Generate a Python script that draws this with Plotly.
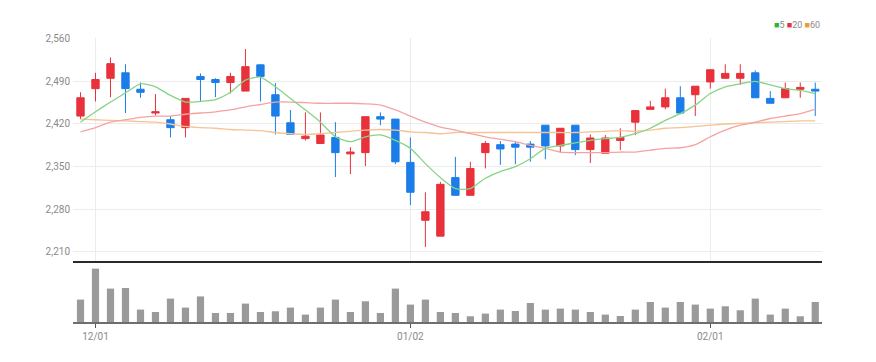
import plotly.graph_objects as go
from plotly.subplots import make_subplots

dates = ["2022-11-30", "2022-12-01", "2022-12-02", "2022-12-05", "2022-12-06", "2022-12-07",
         "2022-12-08", "2022-12-09", "2022-12-12", "2022-12-13", "2022-12-14", "2022-12-15",
         "2022-12-16", "2022-12-19", "2022-12-20", "2022-12-21", "2022-12-22", "2022-12-23",
         "2022-12-26", "2022-12-27", "2022-12-28", "2022-12-29", "2023-01-02", "2023-01-03",
         "2023-01-04", "2023-01-05", "2023-01-06", "2023-01-09", "2023-01-10", "2023-01-11",
         "2023-01-12", "2023-01-13", "2023-01-16", "2023-01-17", "2023-01-18", "2023-01-19",
         "2023-01-20", "2023-01-25", "2023-01-26", "2023-01-27", "2023-01-30", "2023-01-31",
         "2023-02-01", "2023-02-02", "2023-02-03", "2023-02-06", "2023-02-07", "2023-02-08",
         "2023-02-09", "2023-02-10"]

open_ = [2433, 2478, 2495, 2504, 2477, 2438, 2427, 2414, 2498, 2493,
         2488, 2474, 2517, 2468, 2422, 2396, 2388, 2398, 2371, 2373,
         2432, 2428, 2357, 2262, 2236, 2332, 2303, 2373, 2386, 2387,
         2387, 2418, 2384, 2418, 2378, 2372, 2393, 2423, 2444, 2448,
         2463, 2468, 2489, 2495, 2495, 2504, 2462, 2463, 2477, 2477]
high = [2472, 2504, 2529, 2518, 2488, 2469, 2433, 2462, 2503, 2495,
        2504, 2543, 2518, 2487, 2443, 2439, 2439, 2423, 2382, 2432,
        2439, 2428, 2398, 2308, 2325, 2366, 2358, 2392, 2392, 2392,
        2392, 2418, 2413, 2418, 2403, 2402, 2413, 2442, 2458, 2478,
        2482, 2482, 2509, 2518, 2518, 2508, 2474, 2488, 2488, 2488]
low = [2428, 2457, 2464, 2438, 2463, 2434, 2398, 2398, 2456, 2464,
       2470, 2474, 2457, 2403, 2403, 2393, 2388, 2333, 2338, 2351,
       2418, 2354, 2287, 2218, 2236, 2303, 2303, 2347, 2353, 2354,
       2358, 2362, 2373, 2369, 2356, 2372, 2377, 2402, 2444, 2444,
       2436, 2433, 2478, 2495, 2484, 2463, 2454, 2463, 2463, 2433]
close = [2463, 2493, 2519, 2478, 2472, 2440, 2414, 2462, 2493, 2488,
         2498, 2514, 2498, 2433, 2403, 2400, 2402, 2373, 2374, 2432,
         2428, 2358, 2308, 2276, 2321, 2303, 2347, 2388, 2379, 2382,
         2382, 2384, 2413, 2378, 2397, 2397, 2398, 2442, 2448, 2463,
         2438, 2482, 2509, 2503, 2503, 2463, 2454, 2478, 2480, 2474]

ma5 = [2423, 2440, 2456, 2471, 2486, 2481, 2467, 2456, 2457, 2460,
       2472, 2492, 2497, 2481, 2462, 2443, 2423, 2399, 2391, 2399,
       2402, 2393, 2380, 2355, 2332, 2314, 2314, 2331, 2342, 2350,
       2363, 2380, 2385, 2389, 2393, 2396, 2398, 2404, 2413, 2426,
       2437, 2451, 2470, 2481, 2486, 2490, 2484, 2478, 2475, 2470]
ma20 = [2407, 2414, 2423, 2427, 2431, 2433, 2433, 2436, 2438, 2440,
        2443, 2448, 2452, 2456, 2456, 2455, 2454, 2454, 2454, 2453,
        2451, 2443, 2433, 2423, 2415, 2410, 2404, 2399, 2395, 2391,
        2385, 2380, 2374, 2373, 2373, 2373, 2374, 2374, 2377, 2380,
        2381, 2386, 2399, 2410, 2418, 2423, 2429, 2433, 2437, 2444]
ma60 = [2428, 2427, 2426, 2425, 2424, 2423, 2420, 2416, 2414, 2413,
        2411, 2410, 2409, 2406, 2404, 2403, 2404, 2406, 2408, 2410,
        2411, 2410, 2407, 2406, 2404, 2406, 2406, 2406, 2406, 2406,
        2406, 2406, 2406, 2406, 2407, 2408, 2409, 2408, 2410, 2413,
        2414, 2416, 2418, 2420, 2421, 2422, 2423, 2424, 2425, 2425]

volume = [56000, 133500, 83500, 85000, 31000, 25000, 58500, 36000, 64000, 22500,
          22500, 46000, 25000, 26800, 36000, 18500, 36000, 56000, 25000, 51800,
          22500, 83500, 43500, 56000, 25000, 22500, 14300, 21000, 31000, 27500,
          47500, 31000, 33500, 31000, 25000, 18500, 15000, 31000, 50000, 36000,
          50000, 43500, 33500, 39300, 29300, 58500, 18500, 33500, 14300, 50000]

price_ticks = [2210, 2280, 2350, 2420, 2490, 2560]
date_ticks = ["2022-12-01", "2023-01-02", "2023-02-01"]
date_tick_text = ["12/01", "01/02", "02/01"]

UP = "#e8313b"
DOWN = "#1b7de8"
C5, C20, C60 = "#86d486", "#f4a3a3", "#f6c394"
FONT = "Liberation Sans Narrow, Roboto, Arial, sans-serif"

fig = make_subplots(rows=2, cols=1, shared_xaxes=False, vertical_spacing=0.0)

fig.add_trace(go.Scatter(x=dates, y=ma60, mode="lines", line=dict(color=C60, width=1.3, shape="spline", smoothing=0.6),
                         hoverinfo="skip", showlegend=False), row=1, col=1)
fig.add_trace(go.Scatter(x=dates, y=ma20, mode="lines", line=dict(color=C20, width=1.3, shape="spline", smoothing=0.6),
                         hoverinfo="skip", showlegend=False), row=1, col=1)
fig.add_trace(go.Scatter(x=dates, y=ma5, mode="lines", line=dict(color=C5, width=1.3, shape="spline", smoothing=0.6),
                         hoverinfo="skip", showlegend=False), row=1, col=1)
fig.add_trace(go.Candlestick(x=dates, open=open_, high=high, low=low, close=close,
                             increasing=dict(line=dict(color=UP, width=1), fillcolor=UP),
                             decreasing=dict(line=dict(color=DOWN, width=1), fillcolor=DOWN),
                             whiskerwidth=0, showlegend=False), row=1, col=1)
fig.add_trace(go.Bar(x=dates, y=volume, marker=dict(color="#9a9a9a", line=dict(width=0)), width=0.48,
                     showlegend=False), row=2, col=1)

# pixel layout: margins t=20, b=40 -> plot 20..322
H = 362
t, b = 20, 40
ph = H - t - b
def frac(ypix):
    return (H - b - ypix) / ph

xr = [-0.5, 49.45]
fig.update_layout(
    width=876, height=H,
    margin=dict(l=73, r=54, t=t, b=b),
    paper_bgcolor="white", plot_bgcolor="white",
    font=dict(family=FONT, size=10, color="#8a8a8a"),
    boxgap=0.3, boxgroupgap=0.3,
    bargap=0.5,
    xaxis=dict(type="category", range=xr, showticklabels=False, showgrid=True, gridcolor="#ececec",
               tickvals=date_ticks, ticks="", showline=True, linecolor="#2a2a2a", linewidth=2,
               rangeslider=dict(visible=False), domain=[0, 1], fixedrange=True),
    yaxis=dict(domain=[frac(261), frac(38.3) + 0.0], range=[2195.2, 2560.6], tickvals=price_ticks,
               tickformat=",d", showgrid=True, gridcolor="#ececec", zeroline=False, ticks="",
               ticklabelstandoff=2, tickfont=dict(size=10, color="#8a8a8a", family=FONT)),
    xaxis2=dict(type="category", range=xr, tickvals=date_ticks, ticktext=date_tick_text, showgrid=False,
                ticks="outside", ticklen=4, tickcolor="#555", tickwidth=1, showline=True,
                linecolor="#6e6e6e", linewidth=2, tickfont=dict(size=10, color="#8a8a8a", family=FONT)),
    yaxis2=dict(domain=[0, frac(262)], range=[0, 150000], showticklabels=False, showgrid=False,
                zeroline=False, ticks=""),
)

legend_text = (f"<span style='color:#2fb52f'>■</span>5 "
               f"<span style='color:{UP}'>■</span>20 "
               f"<span style='color:#f09a2a'>■</span>60")
fig.add_annotation(text=legend_text, xref="paper", yref="paper", x=1.0, y=frac(25), xanchor="right",
                   yanchor="middle", showarrow=False, font=dict(size=9, color="#8a8a8a", family=FONT))

fig.write_html("out.html", config={"displayModeBar": False},
               post_script="document.body.style.margin='0';")
